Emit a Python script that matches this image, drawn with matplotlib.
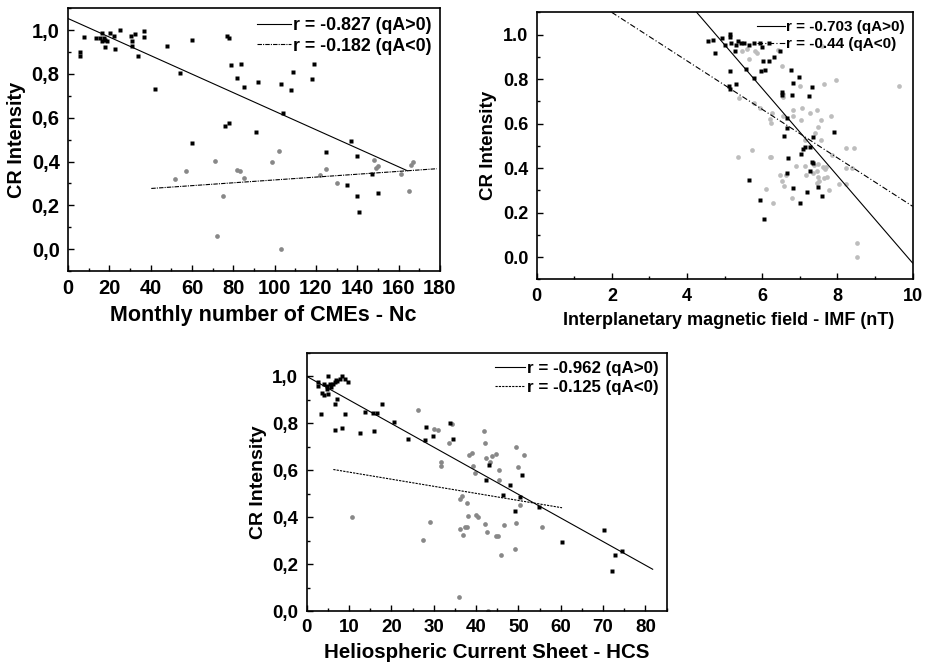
import numpy as np
import matplotlib
matplotlib.use("Agg")
import matplotlib.pyplot as plt
from matplotlib.ticker import MultipleLocator, FuncFormatter

plt.rcParams['font.family'] = ['Liberation Sans', 'DejaVu Sans']
plt.rcParams['font.weight'] = 'bold'
plt.rcParams['axes.labelweight'] = 'bold'

# ---- panel 1: CMEs ----
cme_pos_x = [5.8, 5.8, 7.9, 13.7, 15.6, 16.4, 16.4, 17.2, 18.0, 18.0, 18.9, 20.1, 22.1, 22.9,
             25.0, 30.6, 31.0, 31.0, 32.5, 34.0, 36.9, 36.9, 41.9, 48.0, 54.0, 59.9, 59.9,
             76.9, 77.8, 76.0, 77.8, 79.0, 82.0, 83.9, 85.0, 91.0, 92.0, 103.0, 103.9, 108.0,
             109.0, 118.0, 118.9, 125.0, 137.0, 140.0, 135.0, 140.0, 141.0, 147.1, 150.0]
cme_pos_y = [0.899, 0.881, 0.968, 0.963, 0.963, 0.986, 0.95, 0.962, 0.922, 0.954, 0.948, 0.986,
             0.971, 0.916, 1.0, 0.974, 0.95, 0.927, 0.983, 0.881, 0.997, 0.968, 0.729, 0.927,
             0.803, 0.957, 0.483, 0.973, 0.966, 0.561, 0.578, 0.841, 0.782, 0.846, 0.741, 0.537,
             0.765, 0.756, 0.623, 0.726, 0.808, 0.779, 0.843, 0.444, 0.492, 0.425, 0.293, 0.241,
             0.171, 0.343, 0.255]
cme_neg_x = [51.9, 57.0, 70.9, 74.9, 71.9, 81.9, 83.0, 85.0, 98.9, 102.0, 103.0, 122.0, 125.0,
             130.0, 147.9, 149.0, 150.0, 161.0, 165.0, 166.0, 167.0]
cme_neg_y = [0.319, 0.358, 0.401, 0.241, 0.059, 0.363, 0.358, 0.323, 0.396, 0.45, 0.0, 0.338,
             0.367, 0.302, 0.409, 0.369, 0.378, 0.343, 0.264, 0.383, 0.399]
cme_fit_pos = ([0, 164.2], [1.053, 0.358])
cme_fit_neg = ([40.3, 178.4], [0.277, 0.367])

# ---- panel 2: IMF ----
imf_pos_x = [4.57, 4.68, 4.74, 4.94, 5.02, 5.13, 5.13, 5.17, 5.27, 5.29, 5.35, 5.43, 5.52, 5.66,
             5.77, 5.94, 5.98, 6.18, 5.12, 5.15, 5.15, 5.3, 5.57, 5.79, 5.97, 6.03, 6.08, 6.17,
             6.31, 6.47, 6.52, 6.53, 6.77, 6.79, 6.83, 6.98, 7.24, 7.32, 6.67, 6.67, 6.57, 6.69,
             7.03, 7.09, 7.15, 7.27, 7.36, 7.33, 7.36, 7.26, 7.9, 6.65, 5.66, 5.95, 6.05, 6.83,
             7.0, 7.19, 7.48, 7.6]
imf_pos_y = [0.972, 0.975, 0.919, 0.984, 0.951, 1.001, 0.988, 0.964, 0.927, 0.952, 0.97, 0.964,
             0.964, 0.955, 0.963, 0.961, 0.946, 0.964, 0.771, 0.838, 0.757, 0.78, 0.844, 0.804,
             0.838, 0.882, 0.841, 0.882, 0.9, 0.924, 0.729, 0.744, 0.841, 0.729, 0.784, 0.808,
             0.726, 0.763, 0.624, 0.582, 0.546, 0.444, 0.465, 0.486, 0.495, 0.496, 0.538, 0.429,
             0.421, 0.387, 0.561, 0.376, 0.345, 0.255, 0.171, 0.309, 0.241, 0.292, 0.313, 0.273]
imf_neg_x = [5.45, 5.59, 5.82, 5.86, 5.66, 6.43, 6.52, 6.56, 6.56, 5.39, 5.78, 5.93, 6.21, 6.24,
             6.26, 6.55, 6.82, 6.83, 7.0, 7.07, 7.04, 7.27, 7.45, 7.48, 7.55, 7.58, 7.65, 7.83,
             7.95, 9.63, 7.4, 7.14, 7.55, 7.85, 8.22, 8.44, 8.24, 8.38, 5.35, 5.72, 6.21, 6.24,
             6.63, 6.47, 6.52, 6.57, 6.11, 6.29, 6.79, 6.89, 7.14, 7.37, 7.48, 7.45, 7.34, 7.16,
             7.47, 7.52, 7.45, 7.61, 7.67, 7.73, 7.63, 7.78, 7.7, 8.05, 8.22, 8.52, 8.52]
imf_neg_y = [0.927, 0.933, 0.928, 0.918, 0.891, 0.931, 0.858, 0.733, 0.718, 0.714, 0.694, 0.672,
             0.619, 0.601, 0.648, 0.636, 0.661, 0.636, 0.769, 0.672, 0.615, 0.649, 0.663, 0.586,
             0.618, 0.948, 0.777, 0.634, 0.795, 0.768, 0.558, 0.526, 0.526, 0.459, 0.492, 0.492,
             0.399, 0.4, 0.451, 0.48, 0.45, 0.45, 0.37, 0.367, 0.343, 0.321, 0.306, 0.243, 0.265,
             0.408, 0.408, 0.412, 0.418, 0.385, 0.379, 0.369, 0.361, 0.34, 0.334, 0.406, 0.397,
             0.36, 0.355, 0.303, 0.403, 0.327, 0.327, 0.061, 0.0]
imf_fit_pos = ([4.255, 10.0], [1.1, -0.027])
imf_fit_neg = ([1.995, 10.0], [1.1, 0.228])

# ---- panel 3: HCS ----
hcs_pos_x = [2.75, 2.75, 3.54, 4.17, 4.17, 4.72, 4.72, 4.96, 4.96, 5.43, 5.82, 6.14, 6.69, 6.92,
             7.24, 7.95, 8.42, 9.05, 9.83, 3.46, 6.77, 7.16, 6.61, 8.34, 9.05, 12.59, 13.85,
             15.58, 16.6, 15.97, 17.78, 20.53, 24.0, 28.17, 27.9, 29.74, 33.83, 34.62, 42.4,
             43.0, 46.4, 48.0, 49.3, 50.4, 50.8, 54.9, 60.3, 70.2, 72.1, 72.8, 74.4]
hcs_pos_y = [0.974, 0.957, 0.93, 0.969, 0.92, 0.957, 0.946, 1.0, 0.926, 0.966, 0.953, 0.967,
             0.977, 0.984, 0.979, 0.99, 1.0, 0.989, 0.974, 0.841, 0.882, 0.902, 0.772, 0.78,
             0.838, 0.757, 0.848, 0.842, 0.842, 0.765, 0.883, 0.807, 0.731, 0.784, 0.727, 0.744,
             0.802, 0.731, 0.56, 0.624, 0.494, 0.536, 0.427, 0.486, 0.578, 0.444, 0.293, 0.344,
             0.169, 0.24, 0.255]
hcs_neg_x = [26.36, 10.78, 27.5, 29.2, 30.1, 30.9, 31.8, 31.8, 33.6, 34.3, 36.0, 36.2, 36.2,
             36.6, 37.0, 37.4, 37.9, 37.9, 38.2, 38.4, 39.0, 39.3, 39.7, 39.9, 40.5, 41.9, 42.2,
             42.2, 42.3, 42.6, 42.9, 43.4, 43.8, 44.7, 44.8, 45.1, 45.3, 45.3, 46.0, 46.7, 49.4,
             49.3, 49.5, 50.0, 50.3, 51.4, 55.6]
hcs_neg_y = [0.858, 0.401, 0.302, 0.381, 0.777, 0.771, 0.637, 0.62, 0.718, 0.798, 0.06, 0.35,
             0.479, 0.491, 0.324, 0.36, 0.36, 0.462, 0.403, 0.663, 0.674, 0.619, 0.59, 0.41, 0.4,
             0.768, 0.717, 0.37, 0.654, 0.336, 0.0, 0.637, 0.659, 0.32, 0.671, 0.321, 0.602,
             0.56, 0.24, 0.367, 0.698, 0.266, 0.377, 0.613, 0.45, 0.663, 0.358]
hcs_fit_pos = ([0, 81.7], [1.0, 0.178])
hcs_fit_neg = ([6.3, 60.3], [0.603, 0.44])


def comma(v, pos):
    return f"{v:.1f}".replace(".", ",")


def panel(ax, px, py, nx, ny, fpos, fneg, rpos, rneg, neg_color, neg_style,
          xlim, ylim, xmaj, xmin, xlabel, tick_fs, xlab_fs, ylab_fs, leg_fs, use_comma,
          xlab_x=0.5, hlen=1.9):
    ax.plot(nx, ny, 'o', color=neg_color, ms=3.4, mec='none', zorder=2)
    ax.plot(px, py, 's', color='black', ms=3.4, mec='none', zorder=3)
    ax.plot(*fpos, color='black', lw=0.8, label=f"r = {rpos} (qA>0)")
    ax.plot(*fneg, color='black', lw=0.8, ls=neg_style, label=f"r = {rneg} (qA<0)")
    ax.set_xlim(*xlim)
    ax.set_ylim(*ylim)
    ax.xaxis.set_major_locator(MultipleLocator(xmaj))
    ax.xaxis.set_minor_locator(MultipleLocator(xmin))
    ax.yaxis.set_major_locator(MultipleLocator(0.2))
    ax.yaxis.set_minor_locator(MultipleLocator(0.1))
    if use_comma:
        ax.yaxis.set_major_formatter(FuncFormatter(comma))
    else:
        ax.yaxis.set_major_formatter(FuncFormatter(lambda v, p: f"{v:.1f}"))
    ax.tick_params(which='both', direction='in', labelsize=tick_fs, pad=6)
    ax.tick_params(which='major', length=4, width=1)
    ax.tick_params(which='minor', length=2.5, width=1)
    for lab in ax.get_xticklabels() + ax.get_yticklabels():
        lab.set_fontweight('bold')
    for s in ax.spines.values():
        s.set_linewidth(1.2)
    ax.set_xlabel(xlabel, fontsize=xlab_fs, fontweight='bold', labelpad=5)
    ax.xaxis.label.set_x(xlab_x)
    ax.set_ylabel("CR Intensity", fontsize=ylab_fs, fontweight='bold', labelpad=4)
    ax.legend(loc='upper right', frameon=False, handlelength=hlen,
              handletextpad=0.1, borderaxespad=0.1, labelspacing=0.2,
              prop={'weight': 'bold', 'size': leg_fs})


fig = plt.figure(figsize=(9.29, 6.62), dpi=100)
ax1 = fig.add_axes([0.0732, 0.5906, 0.4004, 0.397])
ax2 = fig.add_axes([0.5777, 0.5781, 0.4047, 0.4033])
ax3 = fig.add_axes([0.3301, 0.0770, 0.3875, 0.3900])

panel(ax1, cme_pos_x, cme_pos_y, cme_neg_x, cme_neg_y, cme_fit_pos, cme_fit_neg,
      "-0.827", "-0.182", '#888888', (0, (4, 1, 1, 1)),
      (0, 180), (-0.1, 1.1), 20, 10, "Monthly number of CMEs - Nc", 14.5, 15.5, 14.3, 12.8, True,
      xlab_x=0.525, hlen=1.9)
panel(ax2, imf_pos_x, imf_pos_y, imf_neg_x, imf_neg_y, imf_fit_pos, imf_fit_neg,
      "-0.703", "-0.44", '#bdbdbd', (0, (5, 2, 1, 2)),
      (0, 10), (-0.1, 1.1), 2, 1, "Interplanetary magnetic field - IMF (nT)", 13, 13, 13.5, 11, False,
      xlab_x=0.51, hlen=1.8)
panel(ax3, hcs_pos_x, hcs_pos_y, hcs_neg_x, hcs_neg_y, hcs_fit_pos, hcs_fit_neg,
      "-0.962", "-0.125", '#888888', (0, (2, 1)),
      (0, 85), (0, 1.1), 10, 5, "Heliospheric Current Sheet - HCS", 13.5, 14.8, 14, 12.2, True,
      hlen=1.75)

fig.savefig("out.png", dpi=100)
